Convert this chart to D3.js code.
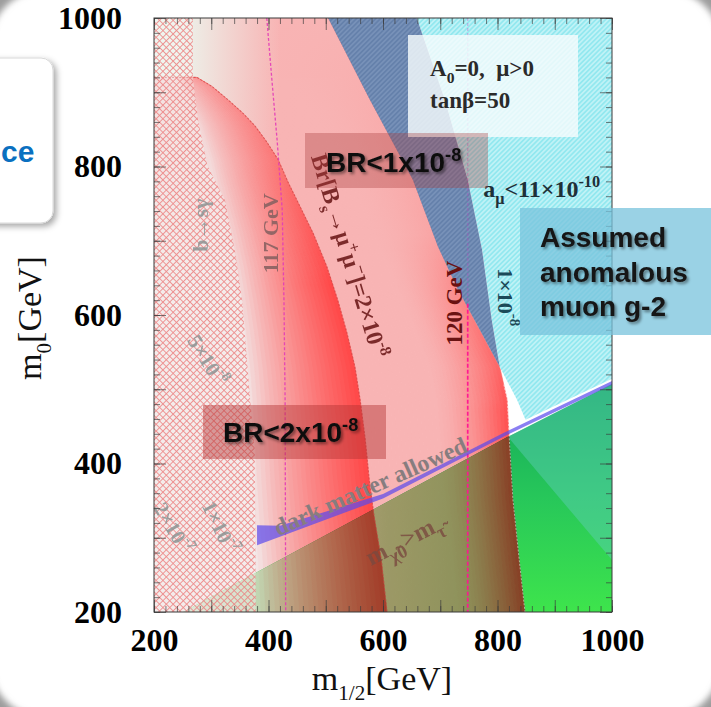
<!DOCTYPE html>
<html>
<head>
<meta charset="utf-8">
<script src="https://cdn.jsdelivr.net/npm/d3@7/dist/d3.min.js"></script>
<style>
html,body{margin:0;padding:0;background:#fff;overflow:hidden}
svg{display:block}
</style>
</head>
<body>
<svg id="chart" width="711" height="707"></svg>
<script>
// CMSSM plane (A0=0, mu>0, tan(beta)=50); every point is [m_1/2, m_0] in GeV
const xTickValues = [200, 400, 600, 800, 1000];
const yTickValues = [200, 400, 600, 800, 1000];

// b -> s gamma excluded region: right-hand edge
const bsgEdge = [[268,1000],[268,920],[277,863],[293,802],[324,755],[341,688],[354,620],[368,486],[376,418],[378,200]];
// Br(Bs -> mu+ mu-) contours
const brContour2e8 = [[275,920],[301,908],[329,890],[355,872],[376,855],[397,833],[417,809],[434,779],[450,754],[478,710],[502,665],[521,620],[537,576],[551,530],[560,486],[569,432],[576,378],[584,331],[597,270],[607,200]];
const brContour1e8 = [[504,1000],[577,890],[652,782],[696,692],[731,634],[769,580],[804,530],[811,506],[817,486],[820,441],[827,351],[838,270],[848,200]];
// muon g-2 contour, a_mu = 11e-10
const amuContour = [[659,1000],[708,890],[748,782],[773,688],[790,593],[804,530],[834,486],[849,459]];
// dark-matter-allowed strip
const dmUpper = [[380,317],[420,316],[600,359],[813,442],[1000,511]];
const dmLower = [[380,290],[600,353],[813,437],[1000,506]];
// stau-LSP boundary (m_chi0 > m_stau below it)
const stauBoundary = [[251,200],[590,341],[818,436],[1000,507]];
// light Higgs mass contours
const higgs117 = [[397,1000],[406,916],[415,836],[424,741],[427,620],[429,486],[430,200]];
const higgs120 = [[748,1000],[748,615],[748,200]];
// g-2 wedge continuing inside the stau region
const gm2Wedge = [[818,436],[1000,507],[1000,270]];

const W = 711, H = 707;
const x = d3.scaleLinear().domain([200, 1000]).range([154, 612]);
const y = d3.scaleLinear().domain([200, 1000]).range([612, 18]);
const svg = d3.select('#chart');
const defs = svg.append('defs');

const poly = pts => 'M' + pts.map(([m, v]) => x(m).toFixed(2) + ',' + y(v).toFixed(2)).join('L') + 'Z';
const line = d3.line().x(d => x(d[0])).y(d => y(d[1]));
const clamp01 = v => Math.max(0, Math.min(1, v));

// contour lookups: m_1/2 as a function of m_0
const r2 = d3.scaleLinear().domain(brContour2e8.map(d => d[1])).range(brContour2e8.map(d => d[0])).clamp(true);
const r1 = d3.scaleLinear().domain(brContour1e8.map(d => d[1])).range(brContour1e8.map(d => d[0])).clamp(true);

// ---------- defs ----------
const blur = defs.append('filter').attr('id', 'frameBlur').attr('x', '-5%').attr('y', '-5%').attr('width', '110%').attr('height', '110%');
blur.append('feGaussianBlur').attr('stdDeviation', 3);

const tsh = defs.append('filter').attr('id', 'txtShadow').attr('x', '-10%').attr('y', '-30%').attr('width', '130%').attr('height', '170%');
tsh.append('feDropShadow').attr('dx', 2).attr('dy', 2).attr('stdDeviation', 1.6).attr('flood-color', '#000').attr('flood-opacity', 0.45);

const bsh = defs.append('filter').attr('id', 'boxShadow').attr('x', '-20%').attr('y', '-10%').attr('width', '150%').attr('height', '130%');
bsh.append('feDropShadow').attr('dx', 3).attr('dy', 3).attr('stdDeviation', 3).attr('flood-color', '#000').attr('flood-opacity', 0.35);

const xh = defs.append('pattern').attr('id', 'xhatch').attr('patternUnits', 'userSpaceOnUse')
  .attr('width', 4.8).attr('height', 4.8).attr('patternTransform', 'rotate(45)');
xh.append('path').attr('d', 'M2.4,0V4.8M0,2.4H4.8').attr('stroke', '#ec7c7c').attr('stroke-width', 0.9).attr('fill', 'none');

const ch = defs.append('pattern').attr('id', 'cyanHatch').attr('patternUnits', 'userSpaceOnUse')
  .attr('width', 3.4).attr('height', 3.4).attr('patternTransform', 'rotate(45)');
ch.append('rect').attr('width', 3.4).attr('height', 3.4).attr('fill', '#93e8ef');
ch.append('path').attr('d', 'M1.7,0V3.4').attr('stroke', '#d8f8fa').attr('stroke-width', 1.1);

const bh = defs.append('pattern').attr('id', 'bandHatch').attr('patternUnits', 'userSpaceOnUse')
  .attr('width', 3.4).attr('height', 3.4).attr('patternTransform', 'rotate(45)');
bh.append('rect').attr('width', 3.4).attr('height', 3.4).attr('fill', '#5d7aa7');
bh.append('path').attr('d', 'M1.7,0V3.4').attr('stroke', '#7d97bd').attr('stroke-width', 1.0);

function linGrad(id, x1, y1, x2, y2, stops) {
  const g = defs.append('linearGradient').attr('id', id).attr('gradientUnits', 'userSpaceOnUse')
    .attr('x1', x1).attr('y1', y1).attr('x2', x2).attr('y2', y2);
  stops.forEach(s => g.append('stop').attr('offset', s[0]).attr('stop-color', s[1]).attr('stop-opacity', s[2] == null ? 1 : s[2]));
}
linGrad('greenRightG', 0, y(507), 0, y(200), [[0, '#12a65a'], [0.5, '#27c75a'], [1, '#3ee44c']]);
linGrad('greenLeftG', x(251), 0, x(850), 0, [[0, '#dcf7de'], [0.3, '#c4eabc'], [0.6, '#a0d890'], [1, '#86c874']]);
linGrad('pinkTopG', 0, y(1000), 0, y(470), [[0, '#f8b4b4', 1], [0.55, '#f8b4b4', 0.85], [1, '#f8b4b4', 0]]);
linGrad('mintLeftG', x(200), 0, x(420), 0, [[0, '#ecf6ee', 1], [0.22, '#ecf6ee', 0.95], [1, '#ecf6ee', 0]]);
linGrad('paleTopG', 0, y(920), 0, y(640), [[0, '#f4c8c8', 0.6], [0.5, '#f4c4c4', 0.3], [1, '#f4c4c4', 0]]);
linGrad('dmTextG', x(400), 0, x(560), 0, [[0, '#877d7f'], [1, '#4c1726']]);

// ---------- slide frame ----------
svg.append('rect').attr('width', W).attr('height', H).attr('fill', '#fff');
const rr = 55, fx = -10, fy = -10, fw = W + 20, fh = H + 20;
const roundRect = `M${fx + rr},${fy}H${fx + fw - rr}A${rr},${rr} 0 0 1 ${fx + fw},${fy + rr}V${fy + fh - rr}A${rr},${rr} 0 0 1 ${fx + fw - rr},${fy + fh}H${fx + rr}A${rr},${rr} 0 0 1 ${fx},${fy + fh - rr}V${fy + rr}A${rr},${rr} 0 0 1 ${fx + rr},${fy}Z`;
svg.append('path').attr('d', `M-60,-60H${W + 60}V${H + 60}H-60Z` + roundRect)
  .attr('fill', '#9c9c9c').attr('fill-rule', 'evenodd').attr('filter', 'url(#frameBlur)');

const plot = svg.append('g');
const clipRect = defs.append('clipPath').attr('id', 'plotClip');
clipRect.append('rect').attr('x', x(200)).attr('y', y(1000)).attr('width', x(1000) - x(200)).attr('height', y(200) - y(1000));
plot.attr('clip-path', 'url(#plotClip)');
const fullRect = g => g.append('rect').attr('x', x(200)).attr('y', y(1000)).attr('width', x(1000) - x(200)).attr('height', y(200) - y(1000));

fullRect(plot).attr('fill', '#ffffff');

// ---------- stau region (green), under the Br shading ----------
const stauPoly = stauBoundary.concat([[1000, 200]]);
plot.append('path').attr('d', poly(stauPoly)).attr('fill', 'url(#greenRightG)');
const leftOf1e8 = [[200, 1000]].concat(brContour1e8, [[200, 200]]);
defs.append('clipPath').attr('id', 'leftOf1e8').append('path').attr('d', poly(leftOf1e8));
plot.append('path').attr('d', poly(stauPoly)).attr('fill', 'url(#greenLeftG)').attr('clip-path', 'url(#leftOf1e8)');
plot.append('path').attr('d', poly(gm2Wedge)).attr('fill', '#66cfc6').attr('opacity', 0.4);

// ---------- Br(Bs -> mu mu) shading ----------
const brGroup = plot.append('g').style('mix-blend-mode', 'multiply');

function strips(g, samples, leftFn, rightFn, n, colorFn) {
  for (let k = 0; k < n; k++) {
    const t0 = k / n, t1 = Math.min(1, (k + 1) / n + 0.004);
    const fwd = samples.map(v => {
      const L = x(leftFn(v)), R = x(rightFn(v));
      return [L + (R - L) * t0, y(v)];
    });
    const back = samples.slice().reverse().map(v => {
      const L = x(leftFn(v)), R = x(rightFn(v));
      return [L + (R - L) * t1, y(v)];
    });
    const c = colorFn((t0 + t1) / 2);
    g.append('path').attr('d', d3.line()(fwd.concat(back)) + 'Z').attr('fill', c).attr('stroke', c).attr('stroke-width', 0.5);
  }
}

// region between the 2e-8 and 1e-8 contours (and above the 2e-8 one)
const samplesII = d3.range(200, 920, 4).concat([920, 920.001], d3.range(924, 1000, 4), [1000]);
const colII = d3.interpolateRgb('#f8b4b4', '#ff5050');
strips(brGroup, samplesII, v => (v > 920 ? 200 : r2(v)), v => r1(v), 40,
  t => colII(Math.pow(clamp01((t - 0.5) / 0.5), 1.6)));
const regionII = [[200, 1000]].concat(brContour1e8, brContour2e8.slice().reverse(), [[200, 920]]);
defs.append('clipPath').attr('id', 'regionII').append('path').attr('d', poly(regionII));
const ovII = brGroup.append('g').attr('clip-path', 'url(#regionII)');
fullRect(ovII).attr('fill', 'url(#pinkTopG)');
fullRect(ovII).attr('fill', 'url(#mintLeftG)');

// region inside the 2e-8 contour
const samplesI = d3.range(200, 920, 4).concat([920]);
const colI = d3.interpolateRgb('#f3e6e6', '#ff4848');
strips(brGroup, samplesI, () => 200, v => r2(v), 48,
  t => colI(Math.pow(clamp01((t - 0.46) / 0.54), 0.75)));
const regionI = [[200, 920]].concat(brContour2e8, [[200, 200]]);
defs.append('clipPath').attr('id', 'regionI').append('path').attr('d', poly(regionI));
fullRect(brGroup.append('g').attr('clip-path', 'url(#regionI)')).attr('fill', 'url(#paleTopG)');

// contour edges
plot.append('path').attr('d', line([[200, 920]].concat(brContour2e8))).attr('fill', 'none')
  .attr('stroke', '#c83c3c').attr('stroke-width', 1.1).attr('stroke-dasharray', '2,1.6').attr('opacity', 0.6);
plot.append('path').attr('d', line(brContour1e8.filter(d => d[1] < 530))).attr('fill', 'none')
  .attr('stroke', '#ffffff').attr('stroke-width', 1).attr('stroke-dasharray', '2,1.6').attr('opacity', 0.5);

// ---------- b -> s gamma hatch ----------
const bsgPoly = [[200, 1000]].concat(bsgEdge, [[200, 200]]);
plot.append('path').attr('d', poly(bsgPoly)).attr('fill', '#f4f6f2').attr('opacity', 0.4);
plot.append('path').attr('d', poly(bsgPoly)).attr('fill', 'url(#xhatch)').attr('opacity', 0.85);

// ---------- Higgs 117 GeV ----------
plot.append('path').attr('d', line(higgs117)).attr('fill', 'none')
  .attr('stroke', '#e23cb8').attr('stroke-width', 1.3).attr('stroke-dasharray', '3,2').attr('opacity', 0.9);

// ---------- g-2 region and band ----------
const cyanPoly = amuContour.concat([[1000, 514], [1000, 1000]]);
plot.append('path').attr('d', poly(cyanPoly)).attr('fill', 'url(#cyanHatch)');
const bandPoly = brContour1e8.filter(d => d[1] >= 530).concat(amuContour.filter(d => d[1] > 530).reverse());
plot.append('path').attr('d', poly(bandPoly)).attr('fill', 'url(#bandHatch)').attr('opacity', 0.95);

// ---------- Higgs 120 GeV ----------
plot.append('path').attr('d', line(higgs120.slice(0, 2))).attr('fill', 'none')
  .attr('stroke', '#c040c0').attr('stroke-width', 1.3).attr('stroke-dasharray', '3,2').attr('opacity', 0.35);
plot.append('path').attr('d', line(higgs120.slice(1))).attr('fill', 'none')
  .attr('stroke', '#ff1493').attr('stroke-width', 1.7).attr('stroke-dasharray', '4,2').attr('opacity', 0.95);

// ---------- dark matter strip ----------
const dmPoly = dmUpper.concat(dmLower.slice().reverse());
plot.append('path').attr('d', poly(dmPoly)).attr('fill', '#5a48ec').attr('opacity', 0.7);

// ---------- parameter box ----------
plot.append('rect').attr('x', 408).attr('y', 35).attr('width', 170).attr('height', 102).attr('fill', '#f5fbfc').attr('opacity', 0.82);

// ---------- in-plot labels ----------
const serif = '"Liberation Serif", "Times New Roman", serif';
const sans = '"Liberation Sans", Arial, sans-serif';

function rich(sel, parts, size) {
  let cur = 0;
  parts.forEach(p => {
    const shift = p.sub ? size * 0.3 : p.sup ? -size * 0.4 : 0;
    const ts = sel.append('tspan').text(p.t).attr('dy', (shift - cur).toFixed(2));
    if (p.sub || p.sup) ts.attr('font-size', (size * (p.scale || 0.68)).toFixed(1));
    cur = shift;
  });
  return sel;
}
function label(px, py, angle, parts, size, fill, opts = {}) {
  const t = svg.append('text')
    .attr('transform', `translate(${px},${py}) rotate(${angle})`)
    .attr('font-family', opts.family || serif)
    .attr('font-weight', opts.weight || 'bold')
    .attr('font-size', size)
    .attr('fill', fill)
    .attr('text-anchor', opts.anchor || 'middle');
  if (opts.opacity) t.attr('opacity', opts.opacity);
  if (opts.central) t.attr('dominant-baseline', 'central');
  rich(t, parts, size);
  return t;
}

label(x(280), y(721), -90, [{ t: 'b\u2192s\u03B3' }], 22, '#8d9696', { central: true, opacity: 0.85 });
label(x(293), y(539), 58, [{ t: '5\u00D710' }, { sup: true, t: '-8' }], 21, '#8d9696', { central: true, opacity: 0.85 });
label(x(233), y(313), 60, [{ t: '2\u00D710' }, { sup: true, t: '-7' }], 21, '#8d9696', { central: true, opacity: 0.85 });
label(x(315), y(314), 64, [{ t: '1\u00D710' }, { sup: true, t: '-7' }], 21, '#8d9696', { central: true, opacity: 0.85 });
label(x(403), y(710), -90, [{ t: '117 GeV' }], 22, '#8a6262', { central: true, opacity: 0.9 });
label(x(474), y(813), 73, [{ t: 'Br[B' }, { sub: true, t: 's' }, { t: '\u2192\u03BC' }, { sup: true, t: '+' }, { t: '\u03BC' }, { sup: true, t: '\u2212' }, { t: ']=2\u00D710' }, { sup: true, t: '-8' }], 24, '#6e1c1c', { anchor: 'start', opacity: 0.9 });
label(x(724), y(616), -90, [{ t: '120 GeV' }], 23, '#6a1212', { central: true });
label(x(815), y(624), 90, [{ t: '1\u00D710' }, { sup: true, t: '-8' }], 22, '#1c4a58', { central: true });
label(x(775), y(759), 0, [{ t: 'a' }, { sub: true, t: '\u03BC' }, { t: '<11\u00D710' }, { sup: true, t: '-10' }], 24, '#1e3038', { anchor: 'start' });
label(x(417), y(302), -24, [{ t: 'dark matter allowed' }], 24, 'url(#dmTextG)', { anchor: 'start' });
label(x(579), y(262), -27, [{ t: 'm' }, { sub: true, t: '\u03C7\u03030', scale: 0.75 }, { t: '>m' }, { sub: true, t: '\u03C4\u0303', scale: 0.75 }], 25, '#7a4a40', { anchor: 'start', opacity: 0.8 });

const l1 = svg.append('text').attr('x', 430).attr('y', 76).attr('font-family', serif).attr('font-weight', 'bold').attr('font-size', 23).attr('fill', '#2a2a2a');
rich(l1, [{ t: 'A' }, { sub: true, t: '0' }, { t: '=0,\u00A0\u00A0\u03BC>0' }], 23);
svg.append('text').attr('x', 430).attr('y', 108).attr('font-family', serif).attr('font-weight', 'bold').attr('font-size', 23).attr('fill', '#2a2a2a').text('tan\u03B2=50');

// ---------- frame, ticks, axes ----------
const axes = svg.append('g');
const minor = d3.range(200, 1001, 20);
const major = d3.range(200, 1001, 100);
function ticks(axisFn, scale, tx, ty, vals, len) {
  const g = axes.append('g').attr('transform', `translate(${tx},${ty})`)
    .call(axisFn(scale).tickValues(vals).tickSize(-len).tickFormat(''));
  g.select('.domain').remove();
  g.selectAll('line').attr('stroke', '#3a3a3a').attr('stroke-width', 0.9).attr('opacity', 0.75);
}
[[minor, 6], [major, 12]].forEach(([vals, len]) => {
  ticks(d3.axisBottom, x, 0, y(200), vals, len);
  ticks(d3.axisTop, x, 0, y(1000), vals, len);
  ticks(d3.axisLeft, y, x(200), 0, vals, len);
  ticks(d3.axisRight, y, x(1000), 0, vals, len);
});
axes.append('rect').attr('x', x(200)).attr('y', y(1000)).attr('width', x(1000) - x(200)).attr('height', y(200) - y(1000))
  .attr('fill', 'none').attr('stroke', '#3a3a3a').attr('stroke-width', 1);

const xl = axes.append('g').attr('transform', `translate(0,${y(200)})`)
  .call(d3.axisBottom(x).tickValues(xTickValues).tickSize(0).tickPadding(16).tickFormat(d3.format('d')));
const yl = axes.append('g').attr('transform', `translate(${x(200)},0)`)
  .call(d3.axisLeft(y).tickValues(yTickValues).tickSize(0).tickPadding(32).tickFormat(d3.format('d')));
[xl, yl].forEach(g => {
  g.select('.domain').remove();
  g.selectAll('text').attr('font-family', serif).attr('font-weight', 'bold').attr('font-size', 32).attr('fill', '#000');
});

const xt = svg.append('text').attr('x', 382).attr('y', 690).attr('text-anchor', 'middle')
  .attr('font-family', serif).attr('font-size', 34).attr('fill', '#111');
rich(xt, [{ t: 'm' }, { sub: true, t: '1/2', scale: 0.62 }, { t: '[GeV]' }], 34);
const yt = svg.append('text').attr('transform', 'translate(41,318) rotate(-90)').attr('text-anchor', 'middle')
  .attr('font-family', serif).attr('font-size', 34).attr('fill', '#111');
rich(yt, [{ t: 'm' }, { sub: true, t: '0', scale: 0.62 }, { t: '[GeV]' }], 34);

// ---------- slide annotations ----------
svg.append('rect').attr('x', 305).attr('y', 133).attr('width', 183).attr('height', 55).attr('fill', '#a83c3c').attr('opacity', 0.35);
label(326, 172, 0, [{ t: 'BR<1x10' }, { sup: true, t: '-8', scale: 0.65 }], 28, '#111', { anchor: 'start', family: sans }).attr('filter', 'url(#txtShadow)');

svg.append('rect').attr('x', 203).attr('y', 405).attr('width', 183).attr('height', 54).attr('fill', '#b43232').attr('opacity', 0.45);
label(223, 442, 0, [{ t: 'BR<2x10' }, { sup: true, t: '-8', scale: 0.65 }], 28, '#111', { anchor: 'start', family: sans }).attr('filter', 'url(#txtShadow)');

svg.append('rect').attr('x', 520).attr('y', 208).attr('width', 200).attr('height', 127).attr('fill', '#78c3dc').attr('opacity', 0.75);
['Assumed', 'anomalous', 'muon g-2'].forEach((s, i) => {
  svg.append('text').attr('x', 540).attr('y', 247 + i * 34.5).attr('font-family', sans).attr('font-weight', 'bold')
    .attr('font-size', 28).attr('fill', '#161616').attr('filter', 'url(#txtShadow)').text(s);
});

svg.append('rect').attr('x', -20).attr('y', 58).attr('width', 73).attr('height', 165).attr('rx', 12)
  .attr('fill', '#fff').attr('stroke', '#d8d8d8').attr('stroke-width', 1).attr('filter', 'url(#boxShadow)');
svg.append('text').attr('x', 1).attr('y', 162).attr('font-family', sans).attr('font-weight', 'bold')
  .attr('font-size', 30).attr('fill', '#0a70c0').text('ce');
</script>
</body>
</html>
